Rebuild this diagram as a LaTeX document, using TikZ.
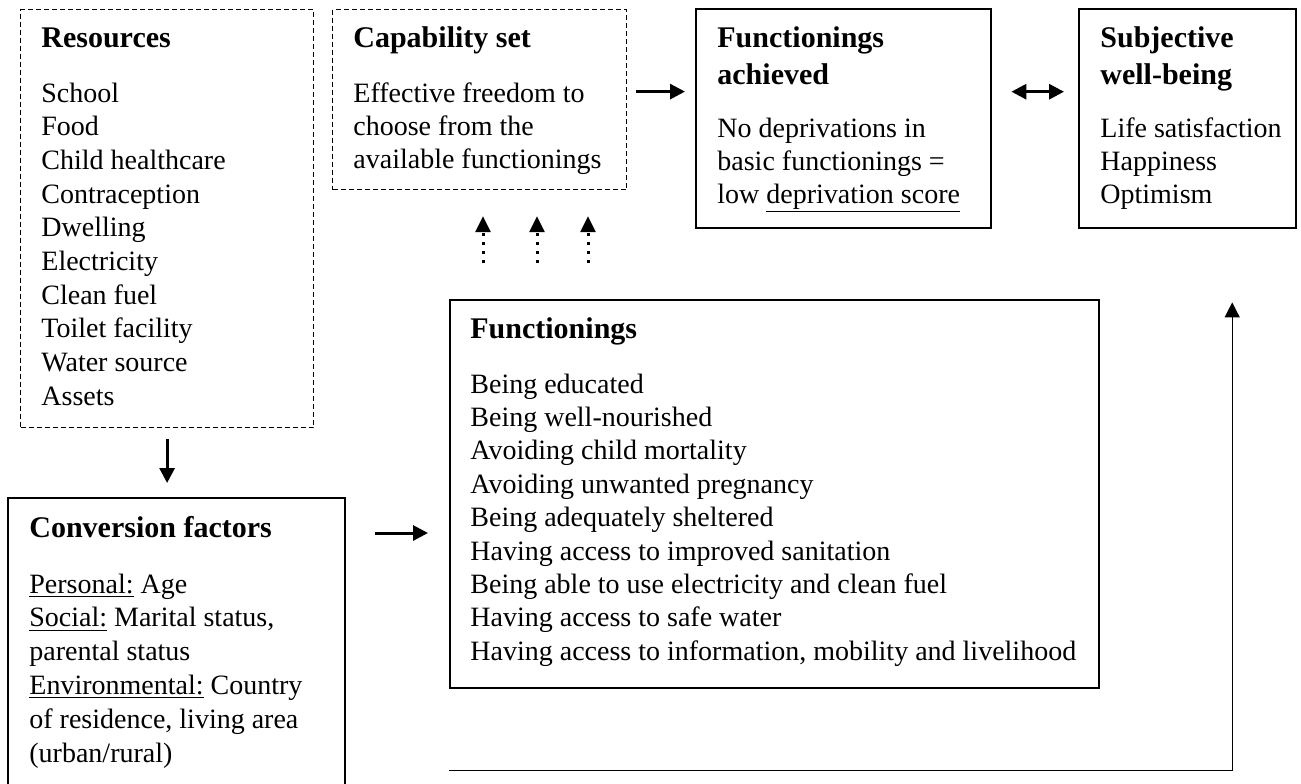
\documentclass[tikz,border=0pt]{standalone}
\usepackage{fontspec}
\setmainfont{Liberation Serif}
\usetikzlibrary{arrows.meta}
\begin{document}
\begin{tikzpicture}[x=0.5pt, y=-0.5pt,
box/.style={draw, line width=1.2pt, anchor=north west, inner sep=0pt},
dbox/.style={draw, line width=0.6pt, dash pattern=on 2.5pt off 1.5pt, anchor=north west, inner sep=0pt},
ttl/.style={anchor=base west, inner sep=0pt, font=\fontsize{15pt}{18pt}\selectfont\bfseries},
txt/.style={anchor=base west, inner sep=0pt, font=\fontsize{14pt}{17pt}\selectfont},
arr/.style={line width=1.5pt, -{Triangle[length=7.5pt,width=7.5pt]}},
arrb/.style={line width=1.5pt, {Triangle[length=7.5pt,width=7.5pt]}-{Triangle[length=7.5pt,width=7.5pt]}},
darr/.style={line width=1.5pt, dash pattern=on 1.5pt off 3pt, -{Triangle[length=8pt,width=7.5pt]}},
tarr/.style={line width=0.6pt, -{Triangle[length=7.5pt,width=7.5pt]}}]
\useasboundingbox (0,0) rectangle (1301,783);
\clip (0,0) rectangle (1301,783);

% boxes
\node[dbox, minimum width=146.5pt, minimum height=209pt] (res) at (20,9) {};
\node[dbox, minimum width=147pt, minimum height=90pt] (cap) at (332,9) {};
\node[box, minimum width=147.5pt, minimum height=109.5pt] (fa) at (695,8) {};
\node[box, minimum width=108.5pt, minimum height=109.5pt] (swb) at (1078,8) {};
\node[box, minimum width=324.5pt, minimum height=194pt] (func) at (449,299) {};
\node[box, minimum width=168.5pt, minimum height=150pt] (conv) at (7,497) {};

% resources
\node[ttl] (res-t) at ([shift={(21,38)}]res.north west) {Resources};
\foreach \t [count=\i from 0] in {School, Food, Child healthcare, Contraception, Dwelling,
  Electricity, Clean fuel, Toilet facility, Water source, Assets}
  \node[txt] (res-\i) at ([shift={(21,93+33.7*\i)}]res.north west) {\t};

% capability set
\node[ttl] (cap-t) at ([shift={(21,38)}]cap.north west) {Capability set};
\foreach \t [count=\i from 0] in {Effective freedom to, choose from the, available functionings}
  \node[txt] (cap-\i) at ([shift={(21,93+33.2*\i)}]cap.north west) {\t};

% functionings achieved
\node[ttl] (fa-t1) at ([shift={(22,39)}]fa.north west) {Functionings};
\node[ttl] (fa-t2) at ([shift={(22,76)}]fa.north west) {achieved};
\foreach \t [count=\i from 0] in {No deprivations in, basic functionings =, low \underline{deprivation score}}
  \node[txt] (fa-\i) at ([shift={(22,129+33*\i)}]fa.north west) {\t};

% subjective well-being
\node[ttl] (swb-t1) at ([shift={(22,39)}]swb.north west) {Subjective};
\node[ttl] (swb-t2) at ([shift={(22,76)}]swb.north west) {well-being};
\foreach \t [count=\i from 0] in {Life satisfaction, Happiness, Optimism}
  \node[txt] (swb-\i) at ([shift={(22,129+33*\i)}]swb.north west) {\t};

% functionings
\node[ttl] (func-t) at ([shift={(21,39)}]func.north west) {Functionings};
\foreach \t [count=\i from 0] in {Being educated, Being well-nourished, Avoiding child mortality,
  Avoiding unwanted pregnancy, Being adequately sheltered, Having access to improved sanitation,
  Being able to use electricity and clean fuel, Having access to safe water,
  {Having access to information, mobility and livelihood}}
  \node[txt] (func-\i) at ([shift={(21,94+33.4*\i)}]func.north west) {\t};

% conversion factors
\node[ttl] (conv-t) at ([shift={(22,40)}]conv.north west) {Conversion factors};
\foreach \t [count=\i from 0] in {\underline{Personal:} Age, {\underline{Social:} Marital status,},
  parental status, \underline{Environmental:} Country, {of residence, living area}, (urban/rural)}
  \node[txt] (conv-\i) at ([shift={(22,96+33.8*\i)}]conv.north west) {\t};

% arrows
\draw[arr, shorten <=5.5pt, shorten >=7pt] (res.south) -- (res.south |- conv.north);
\draw[arr, shorten <=4.5pt, shorten >=5pt] ([yshift=4pt]cap.east) -- ([yshift=4pt]cap.east -| fa.west);
\draw[arrb, shorten <=9.5pt, shorten >=7pt] ([yshift=13.5pt]fa.east) -- ([yshift=13.5pt]swb.west);
\draw[arr, shorten <=14.5pt, shorten >=10.5pt] ([yshift=-18pt]conv.north east) -- ([yshift=-18pt]conv.north east -| func.west);
\foreach \d in {17, 44, 69.5}
  \draw[darr, shorten <=18pt, shorten >=13pt] ([xshift=\d pt]func.north west) -- ([xshift=\d pt]func.north west |- cap.south);
\coordinate (fb) at ([yshift=-40.5pt]func.south west);
\draw[tarr] (fb) -| ([xshift=22.25pt, yshift=-36.5pt]swb.south);
\end{tikzpicture}
\end{document}
